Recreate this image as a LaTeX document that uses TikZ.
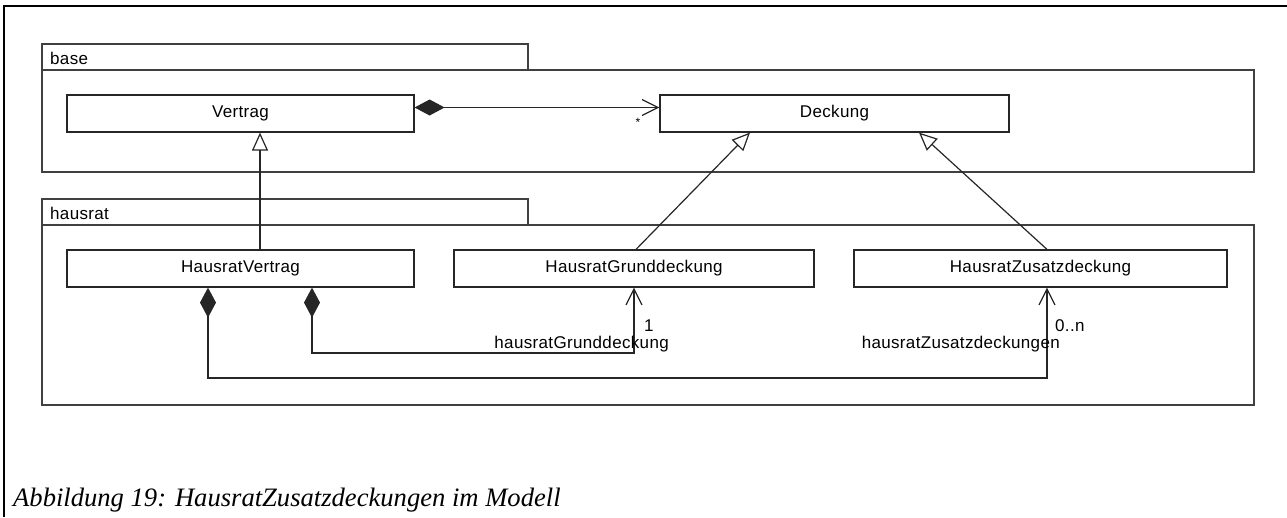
\documentclass[tikz,border=0pt]{standalone}
\usepackage{fontspec}
\usetikzlibrary{arrows.meta}
\newfontfamily\umlfont{Liberation Sans}[LetterSpace=2]
\newfontfamily\captionfont{Liberation Serif}
\begin{document}
\begin{tikzpicture}[x=1pt,y=-1pt,
  umltext/.style={font=\umlfont\fontsize{17}{20}\selectfont},
  cls/.style={umltext, draw=black!85, line width=1.2pt, fill=white,
    minimum height=37pt, inner sep=0pt, text height=12pt, text depth=5pt},
  pkg/.style={draw=black!75, line width=1.6pt, inner sep=0pt, anchor=north west},
  lbl/.style={umltext, inner sep=0pt},
  gen/.style={draw=black!85, line width=1.2pt,
    -{Triangle[open, length=18pt, width=16pt]}},
  comp/.style={draw=black!85, line width=1.2pt,
    {Diamond[length=30pt, width=16pt]}-{Straight Barb[length=16pt, width=16pt]}},
]
\useasboundingbox (0,0) rectangle (1287,517);

% page frame
\draw[line width=1.8pt, black] (4,517) -- (4,6) -- (1287,6);

% package base
\node[pkg, minimum width=486pt, minimum height=26pt] (basetab) at (41,43) {};
\node[pkg, minimum width=1212pt, minimum height=102pt] (basebody) at (41,69) {};
\node[lbl, anchor=base west] (basename) at (50,64.5) {base};

% package hausrat
\node[pkg, minimum width=486pt, minimum height=26pt] (hausrattab) at (41,198) {};
\node[pkg, minimum width=1212pt, minimum height=180pt] (hausratbody) at (41,224) {};
\node[lbl, anchor=base west] (hausratname) at (50,219.5) {hausrat};

% classes
\node[cls, minimum width=347pt] (vertrag) at (240.5,113.5) {Vertrag};
\node[cls, minimum width=349pt] (deckung) at (834.5,113.5) {Deckung};
\node[cls, minimum width=347pt] (hvertrag) at (240.5,268.5) {HausratVertrag};
\node[cls, minimum width=360pt] (hgrund) at (634,268.5) {HausratGrunddeckung};
\node[cls, minimum width=373pt] (hzusatz) at (1040.5,268.5) {HausratZusatzdeckung};

% composition Vertrag -> Deckung
\draw[comp] ([yshift=6pt]vertrag.east) -- ([yshift=6pt]deckung.west);
\node[lbl, font=\umlfont\fontsize{12}{14}\selectfont] (star) at (638,122) {*};

% generalizations
\draw[gen] ([xshift=19.5pt]hvertrag.north) -- ([xshift=19.5pt]vertrag.south);
\draw[gen] ([xshift=2pt]hgrund.north) -- ([xshift=-84.5pt]deckung.south);
\draw[gen] ([xshift=6.5pt]hzusatz.north) -- ([xshift=84.5pt]deckung.south);

% compositions HausratVertrag -> coverages
\coordinate (bendgrund) at (634,353);
\coordinate (bendzusatz) at (1047,378);
\draw[comp] ([xshift=71.5pt]hvertrag.south) |- (bendgrund) -- (hgrund.south);
\draw[comp] ([xshift=-32.5pt]hvertrag.south) |- (bendzusatz) -- ([xshift=6.5pt]hzusatz.south);

% role names and multiplicities
\node[lbl, anchor=base west] (multgrund) at (644,331) {1};
\node[lbl, anchor=base east] (rolegrund) at (669,348) {hausratGrunddeckung};
\node[lbl, anchor=base west] (multzusatz) at (1055,331) {0..n};
\node[lbl, anchor=base east] (rolezusatz) at (1060,348) {hausratZusatzdeckungen};

% caption
\node[anchor=base west, inner sep=0pt,
  font=\captionfont\itshape\fontsize{26.6}{30}\selectfont] (caption) at (13,506)
  {Abbildung 19: HausratZusatzdeckungen im Modell};
\end{tikzpicture}
\end{document}
